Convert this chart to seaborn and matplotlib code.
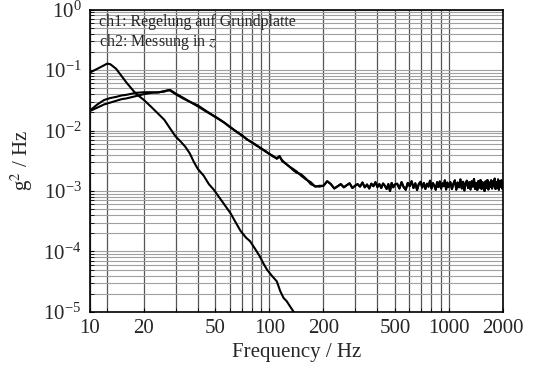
import numpy as np
import pandas as pd
import seaborn as sns
import matplotlib
matplotlib.use("Agg")
import matplotlib.pyplot as plt
from matplotlib.ticker import FixedLocator, LogLocator, NullFormatter, FuncFormatter

# broadband curves below 200 Hz
low_freq = [10, 11, 12, 13, 14, 15, 16, 18, 20, 22, 24, 26, 27, 28, 30, 33, 36, 40, 44, 48,
            52, 56, 60, 65, 70, 75, 80, 85, 90, 95, 100, 105, 110, 114, 118, 124, 130, 136,
            142, 150, 160, 170, 180, 190]
ch1_low = [0.0214, 0.027, 0.032, 0.0345, 0.036, 0.038, 0.039, 0.042, 0.043, 0.043, 0.0425,
           0.045, 0.046, 0.046, 0.040, 0.034, 0.030, 0.025, 0.021, 0.018, 0.0155, 0.0135,
           0.0115, 0.0098, 0.0083, 0.0072, 0.0063, 0.0056, 0.0051, 0.0045, 0.0041, 0.0037,
           0.0035, 0.0038, 0.0031, 0.0028, 0.0025, 0.0023, 0.0021, 0.0018, 0.00155, 0.0014,
           0.00118, 0.00122]
ch2_low = [0.021, 0.024, 0.027, 0.029, 0.031, 0.033, 0.034, 0.037, 0.040, 0.042, 0.043,
           0.044, 0.046, 0.047, 0.041, 0.035, 0.030, 0.026, 0.0215, 0.0182, 0.0158, 0.0136,
           0.0117, 0.0097, 0.0085, 0.0071, 0.0064, 0.0057, 0.0050, 0.0046, 0.0041, 0.0038,
           0.0034, 0.0037, 0.0032, 0.0028, 0.0025, 0.0022, 0.0020, 0.0019, 0.0016, 0.0013,
           0.0012, 0.00118]

# noise floor above 200 Hz (values in 1e-3 g^2/Hz)
floor_freq = [200, 210, 220, 230, 240, 250, 260, 270, 280, 290, 300, 310, 320, 330, 340,
              350, 360, 370, 380, 390, 400, 410, 420, 430, 440, 450, 460, 470, 480, 490, 500,
              515, 530, 545, 560, 575, 590, 605, 620, 635, 650, 665, 680, 695, 710, 725, 740,
              755, 770, 785, 800, 815, 830, 845, 860, 875, 890, 905, 920, 935, 950, 965, 980,
              995, 1020, 1040, 1060, 1080, 1100, 1120, 1140, 1160, 1180, 1200, 1220, 1240,
              1260, 1280, 1300, 1320, 1340, 1360, 1380, 1400, 1420, 1440, 1460, 1480, 1500,
              1520, 1540, 1560, 1580, 1600, 1620, 1640, 1660, 1680, 1700, 1720, 1740, 1760,
              1780, 1800, 1820, 1840, 1860, 1880, 1900, 1920, 1940, 1960, 1980, 2000]
floor_val = [1.22, 1.45, 1.30, 1.10, 1.20, 1.30, 1.15, 1.25, 1.34, 1.12, 1.22, 1.30, 1.18,
             1.38, 1.15, 1.28, 1.10, 1.32, 1.20, 1.40, 1.16, 1.30, 1.12, 1.33, 1.22, 1.08,
             1.30, 1.00, 1.36, 1.15, 1.28,
             1.32, 1.10, 1.40, 1.16, 1.05, 1.36, 1.20, 1.45, 1.12, 1.34, 1.04, 1.30, 1.42,
             1.14, 1.36, 1.08, 1.32, 1.18, 1.48, 1.10, 1.35, 1.22, 1.05, 1.40, 1.16, 1.44,
             1.10, 1.34, 1.20, 1.50, 1.06, 1.38, 1.16,
             1.40, 1.08, 1.32, 1.50, 1.05, 1.38, 1.15, 1.55, 1.10, 1.42,
             1.02, 1.35, 1.48, 1.12, 1.40, 1.06, 1.45, 1.18, 1.58, 1.08,
             1.36, 1.04, 1.46, 1.14, 1.52, 1.08, 1.40, 1.20, 1.00, 1.44,
             1.12, 1.52, 1.06, 1.38, 1.16, 1.50, 1.10, 1.44, 1.20, 1.60,
             1.08, 1.40, 1.14, 1.55, 1.05, 1.46, 1.18, 1.50, 1.10, 1.42]

# resonance curve
peak_freq = [10, 11, 12, 12.5, 13, 14, 15, 16, 17, 18, 20, 22, 24, 26, 28, 30, 32, 34, 36,
             38, 40, 43, 46, 49, 52, 55, 58, 61, 65, 69, 74, 78, 83, 88, 93, 97, 103, 110,
             115, 120, 125, 130, 136, 145]
peak_val = [0.091, 0.105, 0.12, 0.128, 0.125, 0.105, 0.08, 0.062, 0.05, 0.041, 0.032,
            0.0245, 0.019, 0.015, 0.0108, 0.0080, 0.0066, 0.0054, 0.0042, 0.0030, 0.0023,
            0.0018, 0.0013, 0.00105, 0.00082, 0.00065, 0.00052, 0.00042, 0.00030, 0.00022,
            0.00017, 0.000148, 0.000112, 0.000085, 0.000062, 0.00005, 0.00004, 0.000032,
            0.000022, 0.000017, 0.000015, 0.0000125, 0.0000102, 0.000007]

x_major = [10, 20, 50, 100, 200, 500, 1000, 2000]
x_minor = [12.5, 30, 40, 60, 70, 80, 90, 300, 400, 600, 700, 800, 900]

floor = [v * 1e-3 for v in floor_val]
df = pd.concat([
    pd.DataFrame({"f": low_freq + floor_freq, "psd": ch1_low + floor, "ch": "ch1"}),
    pd.DataFrame({"f": low_freq + floor_freq, "psd": ch2_low + floor, "ch": "ch2"}),
    pd.DataFrame({"f": peak_freq, "psd": peak_val, "ch": "peak"}),
])

sns.set_style("ticks")
plt.rcParams["font.family"] = ["Liberation Serif", "DejaVu Serif"]
plt.rcParams["mathtext.fontset"] = "stix"

fig = plt.figure(figsize=(5.35, 3.7), dpi=100)
ax = fig.add_axes([0.168, 0.157, 0.772, 0.817])

ax.set_xscale("log")
ax.set_yscale("log")

for ch in ["ch1", "ch2", "peak"]:
    sns.lineplot(data=df[df.ch == ch], x="f", y="psd", ax=ax, color="black",
                 linewidth=1.5, estimator=None, sort=True)

ax.set_xlim(10, 2000)
ax.set_ylim(1e-5, 1)

ax.xaxis.set_major_locator(FixedLocator(x_major))
ax.xaxis.set_minor_locator(FixedLocator(x_minor))
ax.xaxis.set_major_formatter(FuncFormatter(lambda v, p: f"{v:g}"))
ax.xaxis.set_minor_formatter(NullFormatter())
ax.yaxis.set_major_locator(LogLocator(base=10, numticks=10))
ax.yaxis.set_minor_locator(LogLocator(base=10, subs=np.arange(2, 10), numticks=10))
ax.yaxis.set_minor_formatter(NullFormatter())

ax.grid(True, axis="x", which="both", color="#555555", linewidth=0.9)
ax.grid(True, axis="y", which="both", color="#a0a0a0", linewidth=0.8)
ax.set_axisbelow(True)

ax.tick_params(axis="both", which="both", direction="in", labelsize=15, length=3,
               color="black")
ax.tick_params(axis="y", pad=6)
ax.tick_params(axis="x", pad=5)
for s in ax.spines.values():
    s.set_color("black")
    s.set_linewidth(1.2)

ax.set_xlabel("Frequency / Hz", fontsize=15, labelpad=4)
ax.set_ylabel("g$^2$ / Hz", fontsize=15, labelpad=6)

ax.text(0.022, 0.958, "ch1: Regelung auf Grundplatte", transform=ax.transAxes,
        fontsize=11.5, va="center", ha="left")
ax.text(0.022, 0.893, "ch2: Messung in $z$", transform=ax.transAxes,
        fontsize=11.5, va="center", ha="left")

fig.savefig("out.png", dpi=100)
